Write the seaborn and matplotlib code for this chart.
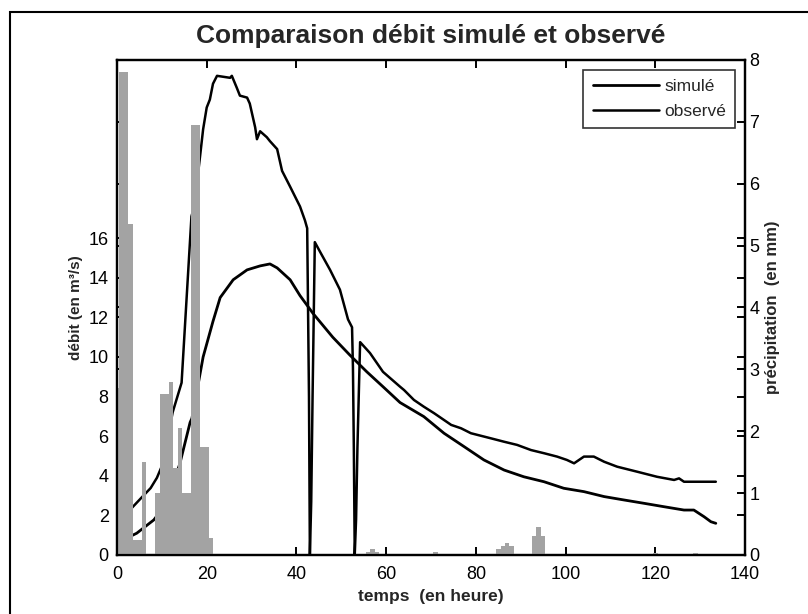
# Comparaison débit simulé / observé avec précipitations (plotyy style)
import numpy as np
import pandas as pd
import seaborn as sns
import matplotlib.pyplot as plt
from matplotlib.patches import Rectangle

# -------------------------------
# Data
# -------------------------------
sim_t = [0, 2, 3.5, 4.4, 8.2, 10, 12, 14.0, 16.3, 16.7, 18.0, 19.2, 21.4, 23.0,
         25.9, 29.0, 31.9, 34.1, 35.7, 38.6, 40.8, 43.7, 48.1, 51.9, 55.7,
         59.3, 63.1, 68.4, 72.9, 77.4, 81.8, 86.3, 90.7, 95.2, 99.6, 104.1,
         108.6, 113.0, 117.5, 121.9, 126.4, 128.6, 130.9, 132.4, 133.5]
sim_q = [1.6, 1.2, 1.0, 1.1, 1.77, 2.3, 3.3, 4.6, 6.7, 6.9, 8.5, 10.0, 11.8,
         13.0, 13.9, 14.4, 14.6, 14.7, 14.5, 13.9, 13.1, 12.2, 11.0, 10.1,
         9.25, 8.5, 7.7, 6.99, 6.15, 5.47, 4.8, 4.29, 3.95, 3.70, 3.37, 3.20,
         2.95, 2.78, 2.61, 2.44, 2.27, 2.27, 1.93, 1.68, 1.60]

obs_t = [0, 2, 3.4, 5.6, 7.5, 8.9, 10.3, 12.4, 14.4, 15.5, 16.6, 17.2, 18.5,
         19.2, 20.0, 20.7, 21.4, 22.3, 25.2, 25.6, 26.7, 27.4, 29.0, 29.6,
         30.8, 31.2, 31.9, 33.4, 34.1, 35.7, 36.8, 38.6, 40.8, 41.9, 42.4,
         42.8, 43.0, 43.3, 43.6, 44.1, 45.3, 47.5, 49.7, 51.5, 52.4, 52.6,
         52.8, 53.0, 53.3, 53.6, 54.2, 56.4, 59.3, 63.1, 64.0, 66.2, 68.4,
         70.7, 74.5, 76.7, 78.9, 83.4, 86.3, 89.2, 92.3, 95.2, 98.1, 100.3,
         101.9, 104.1, 106.3, 108.6, 111.5, 115.9, 120.4, 124.2, 125.3, 126.4,
         133.5]
obs_q = [2.0, 2.2, 2.4, 2.93, 3.38, 3.9, 4.65, 7.2, 8.7, 12.9, 17.1, 17.6, 20.1,
         21.5, 22.6, 23.0, 23.8, 24.2, 24.1, 24.2, 23.6, 23.2, 23.1, 22.8,
         21.6, 21.0, 21.4, 21.1, 20.9, 20.5, 19.4, 18.6, 17.6, 16.9, 16.5,
         8.0, 0.0, 2.7, 8.0, 15.8, 15.3, 14.4, 13.4, 11.9, 11.5, 9.5,
         5.4, 0.0, 1.8, 5.4, 10.75, 10.2, 9.25, 8.5, 8.33, 7.83, 7.49,
         7.16, 6.57, 6.4, 6.15, 5.89, 5.72, 5.56, 5.3, 5.14, 4.97, 4.8,
         4.63, 4.97, 4.97, 4.71, 4.46, 4.21, 3.95, 3.79, 3.87, 3.7,
         3.7]

precip_t = [0, 1, 2, 3, 4, 5, 6, 9, 10, 11, 12, 13, 14, 15, 16, 17, 18, 19, 20, 21,
            56, 57, 58, 71, 85, 86, 87, 88, 93, 94, 95, 120, 129]
precip_mm = [2.7, 7.8, 7.8, 5.35, 0.25, 0.25, 1.5, 1.0, 2.6, 2.6, 2.8, 1.4, 2.05,
             1.0, 1.0, 6.95, 6.95, 1.75, 1.75, 0.27,
             0.05, 0.1, 0.05, 0.05, 0.1, 0.15, 0.2, 0.15, 0.3, 0.45, 0.3, 0.04, 0.04]

x_ticks = [0, 20, 40, 60, 80, 100, 120, 140]
q_ticks = [0, 2, 4, 6, 8, 10, 12, 14, 16]
p_ticks = [0, 1, 2, 3, 4, 5, 6, 7, 8]

sim = pd.DataFrame({"t": sim_t, "q": sim_q})
obs = pd.DataFrame({"t": obs_t, "q": obs_q})

# -------------------------------
# Figure
# -------------------------------
sns.set_theme(style="white")
plt.rcParams["font.family"] = ["Liberation Sans", "DejaVu Sans"]

fig = plt.figure(figsize=(8.08, 6.14), dpi=100)
# scanned page frame (only left/top visible)
fig.patches.append(Rectangle((10 / 808, -0.05), 1.2, 1.05 - 12 / 614,
                             transform=fig.transFigure, fill=False,
                             edgecolor="black", linewidth=1.5))

ax1 = fig.add_axes([0.1448, 0.0961, 0.7772, 0.8062])
ax2 = ax1.twinx()

sns.lineplot(data=sim, x="t", y="q", ax=ax1, sort=False, estimator=None,
             color="black", linewidth=2.0, label="simulé")
sns.lineplot(data=obs, x="t", y="q", ax=ax1, sort=False, estimator=None,
             color="black", linewidth=1.8, label="observé")

# rain bars drawn on the right axis, above the lines (like plotyy)
ax2.bar(precip_t, precip_mm, width=1.0, color="#a3a3a3", edgecolor="none")

ax1.set_xlim(0, 140)
ax1.set_ylim(0, 25)
ax2.set_ylim(0, 8)
ax1.set_xticks(x_ticks)
ax1.set_yticks(q_ticks)
ax2.set_yticks(p_ticks)

for ax in (ax1, ax2):
    for s in ax.spines.values():
        s.set_color("black")
        s.set_linewidth(1.6)

ax1.tick_params(axis="y", direction="in", length=6, width=1.4, colors="black",
                labelsize=13, right=True, left=True, pad=6)
ax1.tick_params(axis="x", direction="in", length=6, width=1.4, colors="black",
                labelsize=13, top=True, bottom=True, pad=8)
ax2.tick_params(axis="y", direction="in", length=6, width=1.4, colors="black",
                labelsize=13, left=True, right=True, labelleft=False, pad=3)

ax1.set_xlabel("temps  (en heure)", fontsize=12.5, fontweight="bold", labelpad=4)
ax1.set_ylabel("débit (en m³/s)", fontsize=11, fontweight="bold", labelpad=4)
ax2.set_ylabel("précipitation  (en mm)", fontsize=12, fontweight="bold", labelpad=4)
ax1.set_title("Comparaison débit simulé et observé", fontsize=19,
              fontweight="bold", pad=12)

handles, labels = ax1.get_legend_handles_labels()
ax1.get_legend().remove()
leg = ax2.legend(handles, labels, loc="upper right", fontsize=12.5,
                 handlelength=3.8, frameon=True, fancybox=False,
                 borderaxespad=0.55, borderpad=0.55, labelspacing=0.55,
                 handletextpad=0.3)
leg.get_frame().set_edgecolor("black")
leg.get_frame().set_linewidth(1.2)

fig.savefig("out.png", dpi=100)
plt.close()
